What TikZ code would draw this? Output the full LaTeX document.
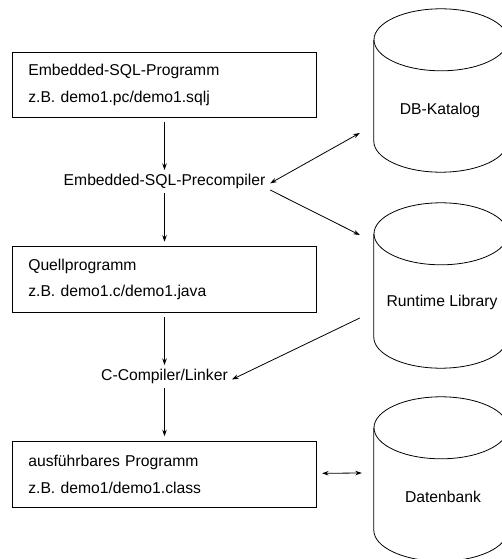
\documentclass[tikz,border=0pt]{standalone}
\usepackage{fontspec}
\setmainfont{Liberation Sans}
\usetikzlibrary{arrows.meta,calc}
\begin{document}
\begin{tikzpicture}[x=1pt,y=-1pt,
  every node/.style={font=\fontsize{15.7}{26.5}\selectfont},
  box/.style={draw,line width=0.8pt,rectangle,minimum width=304.4pt,minimum height=65.4pt,text width=272.4pt,inner xsep=16pt,align=left},
  lbl/.style={inner xsep=4pt,inner ysep=4pt},
  cyl/.style={inner sep=0pt,minimum width=134pt},
  line/.style={line width=0.8pt},
  arr/.style={-{Stealth[length=6.5pt,width=4.5pt]},line width=0.8pt},
  darr/.style={{Stealth[length=6.5pt,width=4.5pt]}-{Stealth[length=6.5pt,width=4.5pt]},line width=0.8pt},
  ell/.style={x radius=67pt,y radius=31pt}]
\useasboundingbox (0,0) rectangle (502,559);
\clip (0,0) rectangle (502,559);

% boxes
\node[box] (b1) at (164.5,85) {Embedded-SQL-Programm\\z.B. demo1.pc/demo1.sqlj};
\node[box] (b2) at (164.5,279.3) {Quellprogramm\\z.B. demo1.c/demo1.java};
\node[box] (b3) at (164.5,474.3) {ausführbares Programm\\z.B. demo1/demo1.class};
\node[lbl] (pre) at (164.5,181.5) {Embedded-SQL-Precompiler};
\node[lbl] (cc) at (164.5,376.5) {C-Compiler/Linker};

% cylinders
\node[cyl,minimum height=163pt] (db) at (441,90.5) {};
\node[cyl,minimum height=165pt] (rt) at (441,285.5) {};
\node[cyl,minimum height=164pt] (dbk) at (441,479) {};
\foreach \c in {db,rt,dbk}{
  \draw[line] ($(\c.north west)+(0,31)$) -- ($(\c.south west)+(0,-31)$)
    arc[start angle=180,end angle=360,ell] -- ($(\c.north east)+(0,31)$);
  \draw[line] ($(\c.north)+(0,31)$) ellipse[ell];
}
\node (dbt) at (440,110) {DB-Katalog};
\node (rtt) at (442,302) {Runtime Library};
\node (dbkt) at (443,497) {Datenbank};

% connectors
\draw[arr,shorten <=4pt] (b1.south) -- (pre.north);
\draw[arr,shorten >=4.5pt] (pre.south) -- (b2.north);
\draw[arr,shorten <=5pt] (b2.south) -- (cc.north);
\draw[arr,shorten >=5pt] (cc.south) -- (b3.north);
\draw[darr] ($(pre.east)+(0.7,1.8)$) -- ($(db.west)+(-14,42.5)$);
\draw[arr] ($(pre.east)+(0.7,8.5)$) -- ($(rt.west)+(-14,-50.5)$);
\draw[arr] ($(rt.west)+(-14,32.5)$) -- ($(cc.east)+(0,3)$);
\draw[darr] ($(b3.east)+(5,-1)$) -- ($(dbk.west)+(-12,-6)$);
\end{tikzpicture}
\end{document}
